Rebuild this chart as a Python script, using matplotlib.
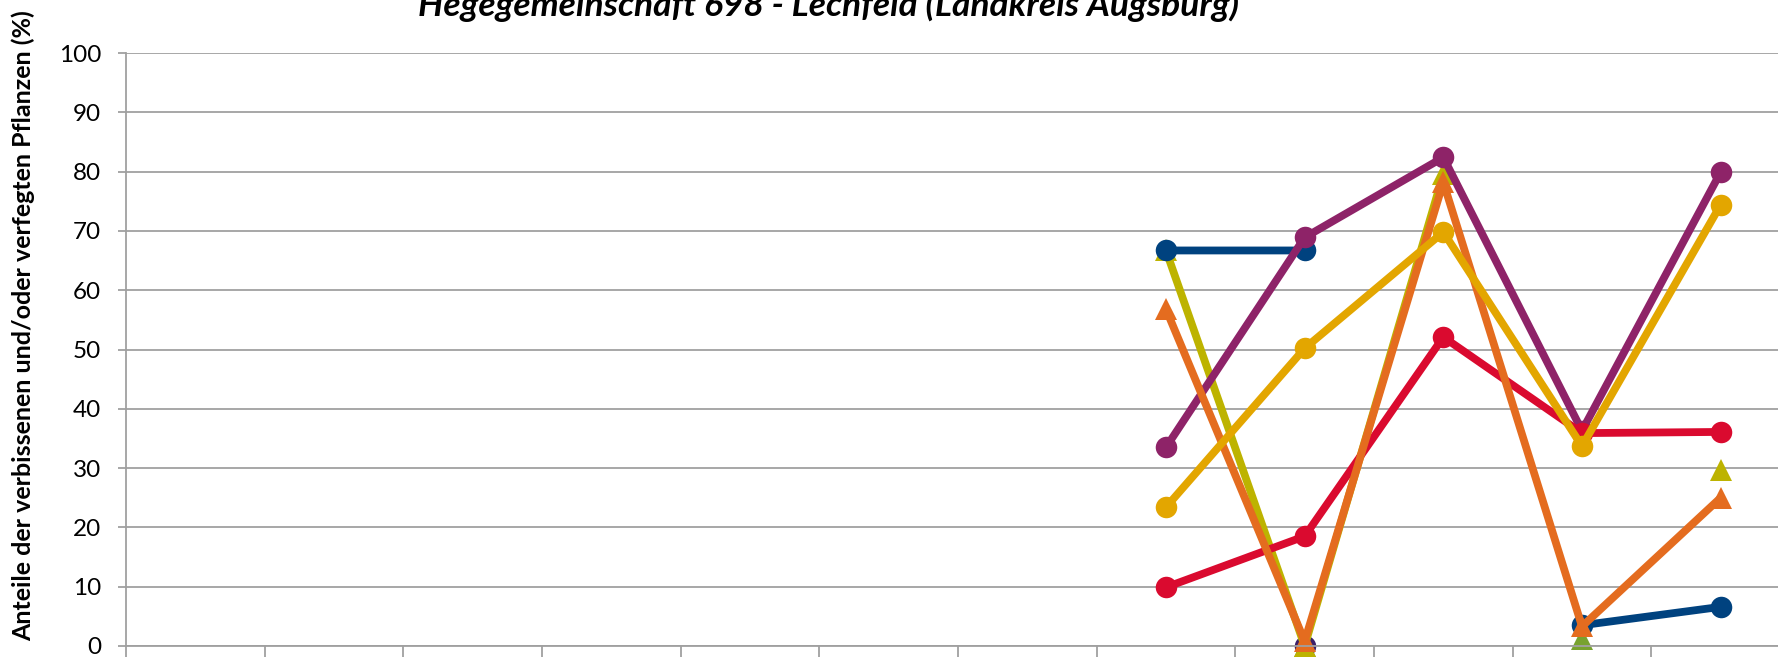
import numpy as np
import matplotlib
matplotlib.use("Agg")
import matplotlib.pyplot as plt

plt.rcParams["font.family"] = ["Lato", "DejaVu Sans"]

# 12 categories on the x axis, only the last five carry data
n_cat = 12
nan = np.nan

# series values per category (NaN = no value)
blue = [nan] * 7 + [66.7, 66.7, nan, 3.5, 6.6]
purple = [nan] * 7 + [33.5, 68.9, 82.4, 36.3, 79.9]
red = [nan] * 7 + [9.9, 18.5, 52.1, 35.9, 36.1]
gold = [nan] * 7 + [23.4, 50.2, 69.8, 33.7, 74.4]
olive = [nan] * 7 + [66.7, 0.0, 79.6, nan, 29.6]
orange = [nan] * 7 + [56.8, 0.8, 78.2, 3.3, 25.0]
indigo = [nan] * 7 + [nan, 0.0, nan, nan, nan]
green = [nan] * 7 + [nan, 0.0, nan, 1.2, nan]

title = "Hegegemeinschaft 698 - Lechfeld (Landkreis Augsburg)"
ylabel = "Anteile der verbissenen und/oder verfegten Pflanzen (%)"
yticks = list(range(0, 101, 10))

fig = plt.figure(figsize=(17.78, 6.57), dpi=100)
# plot area runs past the right edge of the picture (the reference is cropped)
ax = fig.add_axes([126 / 1778, 11 / 657, 1664 / 1778, 593 / 657])

x = np.arange(n_cat) + 0.5

# draw order picked to match the overlaps in the reference
series = [
    (green, "#78A22F", "^"),
    (indigo, "#3C2069", "o"),
    (olive, "#BDB300", "^"),
    (blue, "#00427F", "o"),
    (purple, "#8E2368", "o"),
    (red, "#DA0A2F", "o"),
    (orange, "#E46C1F", "^"),
    (gold, "#E3A600", "o"),
]
for vals, col, mk in series:
    ax.plot(x, vals, color=col, lw=5.6, marker=mk, markersize=15.5,
            markeredgewidth=0, solid_capstyle="butt", clip_on=False)

ax.set_xlim(0, n_cat)
ax.set_ylim(0, 100)
ax.set_yticks(yticks)
ax.set_xticks(np.arange(n_cat + 1))
ax.set_xticklabels([])
ax.grid(axis="y", color="#A0A0A0", lw=1.3)
ax.grid(axis="x", visible=False)
ax.set_axisbelow(True)

for s in ["top", "right"]:
    ax.spines[s].set_visible(False)
for s in ["left", "bottom"]:
    ax.spines[s].set_color("#A0A0A0")
    ax.spines[s].set_linewidth(1.3)

ax.tick_params(axis="y", length=6, width=1.3, color="#A0A0A0", pad=12,
               labelsize=17.5)
ax.tick_params(axis="x", length=10, width=1.3, color="#A0A0A0")

fig.text(0.466, 1 - 16 / 657, title, ha="center", va="baseline",
         fontsize=25.5, fontweight="bold", fontstyle="italic")
fig.text(23 / 1778, 0.504, ylabel, rotation=90, ha="center", va="center",
         fontsize=18, fontweight="bold")

fig.savefig("out.png", dpi=100)
